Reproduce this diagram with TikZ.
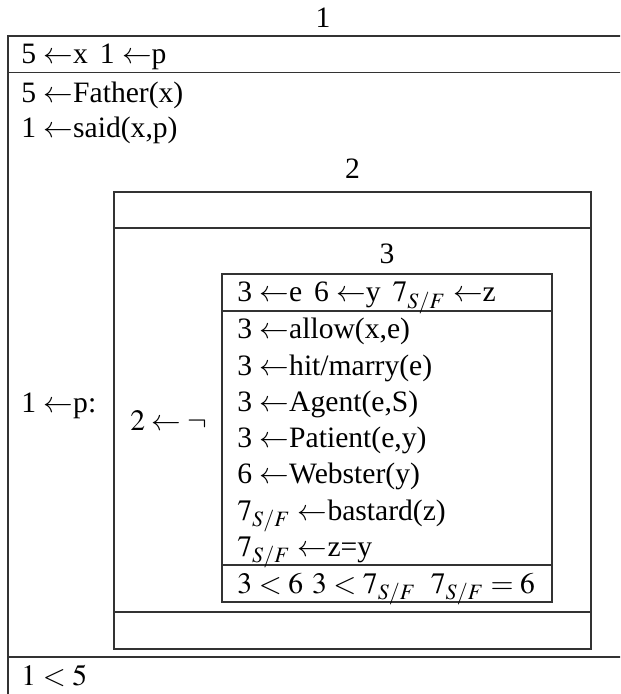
\documentclass[tikz,border=0pt]{standalone}
\usepackage{mathptmx}
\usepackage{fontspec}
\setmainfont{Liberation Serif}

\begin{document}
\begin{tikzpicture}[x=0.5pt,y=-0.5pt]
\tikzset{
  drsline/.style={draw=black!80,line width=0.75pt},
  condition/.style={anchor=base west,inner sep=0pt,font=\fontsize{14.8}{17}\selectfont},
  drslabel/.style={anchor=base,inner sep=0pt,font=\fontsize{14.8}{17}\selectfont}
}
\useasboundingbox (0,0) rectangle (620,694);
\clip (0,0) rectangle (620,694);
% outer box 1 (runs past the page on the right and at the bottom)
\draw[drsline] (8,36) rectangle (680,760);
\draw[drsline] (8,72.5) -- (680,72.5);
\draw[drsline] (8,657) -- (680,657);
% box 2
\draw[drsline] (114,192) rectangle (591,649);
\draw[drsline] (114,228) -- (591,228);
\draw[drsline] (114,612) -- (591,612);
% box 3
\draw[drsline] (222,274) rectangle (552,602);
\draw[drsline] (222,311) -- (552,311);
\draw[drsline] (222,565) -- (552,565);
% labels of the boxes
\node[drslabel] (n_L1) at (323,28) {1};
\node[drslabel] (n_L2) at (352.5,179) {2};
\node[drslabel] (n_L3) at (387,264) {3};
% box 1 contents
\node[condition] (n_U1) at (21,64) {5 $\leftarrow$x\hspace{0.4em}1 $\leftarrow$p};
\node[condition] (n_C1a) at (21,103) {5 $\leftarrow$Father(x)};
\node[condition] (n_C1b) at (21,138) {1 $\leftarrow$said(x,p)};
\node[condition] (n_C1c) at (21,412) {1 $\leftarrow$p:};
\node[condition] (n_C1d) at (21,685) {$1<5$};
% box 2 contents
\node[condition] (n_C2) at (130,430) {$2\leftarrow\neg$};
% box 3 contents
\node[condition] (n_U3) at (237,302) {3 $\leftarrow$e\hspace{0.4em}6 $\leftarrow$y\hspace{0.4em}$7_{S/F}$ $\leftarrow$z};
\node[condition] (n_C3a) at (237,338) {3 $\leftarrow$allow(x,e)};
\node[condition] (n_C3b) at (237,375) {3 $\leftarrow$hit/marry(e)};
\node[condition] (n_C3c) at (237,411.5) {3 $\leftarrow$Agent(e,S)};
\node[condition] (n_C3d) at (237,447.5) {3 $\leftarrow$Patient(e,y)};
\node[condition] (n_C3e) at (237,483.5) {6 $\leftarrow$Webster(y)};
\node[condition] (n_C3f) at (237,520) {$7_{S/F}$ $\leftarrow$bastard(z)};
\node[condition] (n_C3g) at (237,556.5) {$7_{S/F}$ $\leftarrow$z=y};
\node[condition] (n_C3h) at (237,593) {$3<6$\hspace{0.3em}$3<7_{S/F}$\hspace{0.5em}$7_{S/F}=6$};
\end{tikzpicture}
\end{document}
